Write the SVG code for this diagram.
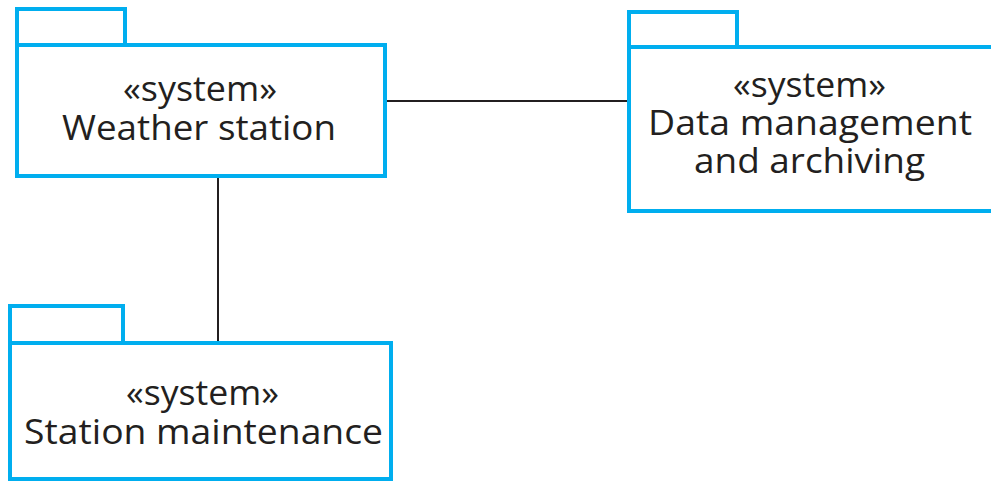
<svg xmlns="http://www.w3.org/2000/svg" width="991" height="482" viewBox="0 0 991 482">
<style>
.pkg{fill:#fff;stroke:#00AEEF;stroke-width:4}
.t{font-family:"Open Sans","Noto Sans","Liberation Sans",sans-serif;font-size:34px;fill:#231F20;text-anchor:middle;lengthAdjust:spacingAndGlyphs}
.c{stroke:#231F20;stroke-width:2;fill:none}
</style>
<rect width="991" height="482" fill="#fff"/>
<g id="connectors">
<line class="c" x1="386" y1="101" x2="628" y2="101"/>
<line class="c" x1="218" y1="177" x2="218" y2="343"/>
</g>
<g id="weather-station">
<rect class="pkg" x="17" y="9" width="108" height="36"/>
<rect class="pkg" x="17" y="45" width="368" height="131"/>
<text class="t" x="200" y="101" textLength="154" lengthAdjust="spacingAndGlyphs">«system»</text>
<text class="t" x="199" y="140" textLength="274" lengthAdjust="spacingAndGlyphs">Weather station</text>
</g>
<g id="data-management">
<rect class="pkg" x="629" y="12" width="108" height="35"/>
<rect class="pkg" x="629" y="47" width="380" height="164"/>
<text class="t" x="809.5" y="97" textLength="153" lengthAdjust="spacingAndGlyphs">«system»</text>
<text class="t" x="810" y="135" textLength="324" lengthAdjust="spacingAndGlyphs">Data management</text>
<text class="t" x="809.5" y="173" textLength="231" lengthAdjust="spacingAndGlyphs">and archiving</text>
</g>
<g id="station-maintenance">
<rect class="pkg" x="10" y="306" width="113" height="37"/>
<rect class="pkg" x="10" y="343" width="381" height="136"/>
<text class="t" x="202.5" y="405" textLength="153" lengthAdjust="spacingAndGlyphs">«system»</text>
<text class="t" x="203.5" y="444" textLength="359" lengthAdjust="spacingAndGlyphs">Station maintenance</text>
</g>
</svg>
